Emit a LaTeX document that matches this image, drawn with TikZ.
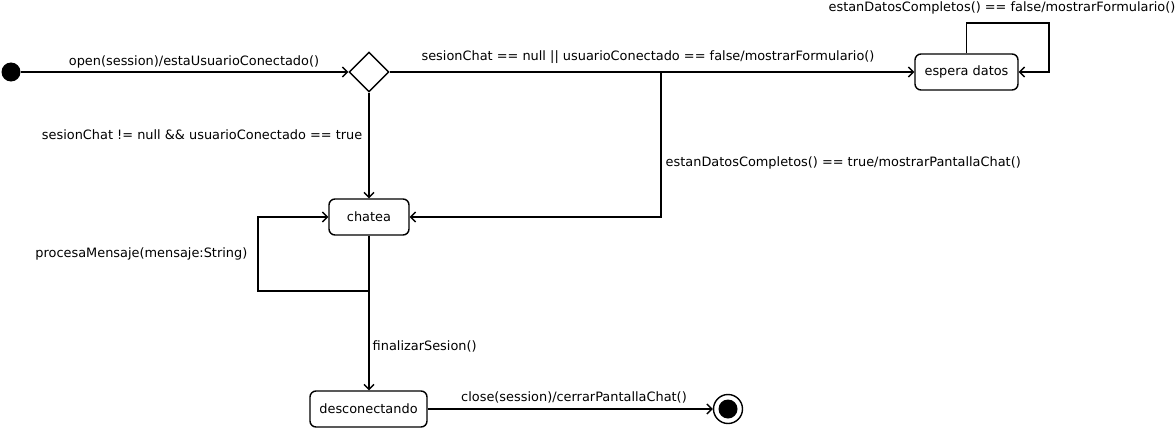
\documentclass[tikz,border=0pt]{standalone}
\usepackage{fontspec}
\setmainfont{DejaVu Sans}
\usetikzlibrary{arrows.meta,shapes.geometric}
\begin{document}
\begin{tikzpicture}[x=1pt,y=-1pt,
  line width=1.4pt,
  every node/.style={font=\fontsize{12.9}{15}\selectfont},
  state/.style={draw,rounded corners=6pt,minimum height=36pt,inner xsep=0pt},
  choice/.style={draw,diamond,minimum width=40pt,minimum height=40pt,inner sep=0pt},
  trans/.style={-{Straight Barb[length=5pt,width=10pt]}},
  lbl/.style={inner sep=1pt}]
\useasboundingbox (0,0) rectangle (1175,428);

% states
\node[circle,fill=black,minimum size=19pt,inner sep=0pt] (init) at (11,72) {};
\node[choice] (dec) at (369,72) {};
\node[state,minimum width=103pt] (espera) at (966.5,72) {espera datos};
\node[state,minimum width=80pt] (chatea) at (369,217) {chatea};
\node[state,minimum width=117pt] (desc) at (368.5,409) {desconectando};
\node[circle,draw,minimum size=29pt,inner sep=0pt] (fin) at (728,409) {};
\node[circle,fill=black,minimum size=19pt,inner sep=0pt] at (fin.center) {};

% junction points of the routed connectors
\coordinate (split) at (661,72);
\coordinate (loopA) at (966,23);
\coordinate (loopB) at (1049,72);
\coordinate (loopC) at (369,291);
\coordinate (loopD) at (258,291);

% transitions
\draw[trans] (init) -- (dec);
\node[lbl] at (194,62) {open(session)/estaUsuarioConectado()};

\draw[trans] (dec) -- (espera);
\node[lbl] at (648,57) {sesionChat == null || usuarioConectado == false/mostrarFormulario()};

\draw[trans] (espera.north) |- (loopA) -| (loopB) -- (espera.east);
\node[lbl] at (1002,8) {estanDatosCompletos() == false/mostrarFormulario()};

\draw[trans] (split) |- (chatea.east);
\node[lbl,anchor=west] at (664,163) {estanDatosCompletos() == true/mostrarPantallaChat()};

\draw[trans] (dec) -- (chatea);
\node[lbl,anchor=east] at (364,135) {sesionChat != null \&\& usuarioConectado == true};

\draw[trans] (chatea.south) -- (loopC) -- (loopD) |- (chatea.west);
\node[lbl,anchor=east] at (249,254) {procesaMensaje(mensaje:String)};

\draw[trans] (chatea.south) -- (desc.north-|chatea.south);
\node[lbl,anchor=west] at (371,346) {finalizarSesion()};

\draw[trans] (desc) -- (fin);
\node[lbl] at (574,397) {close(session)/cerrarPantallaChat()};
\end{tikzpicture}
\end{document}
